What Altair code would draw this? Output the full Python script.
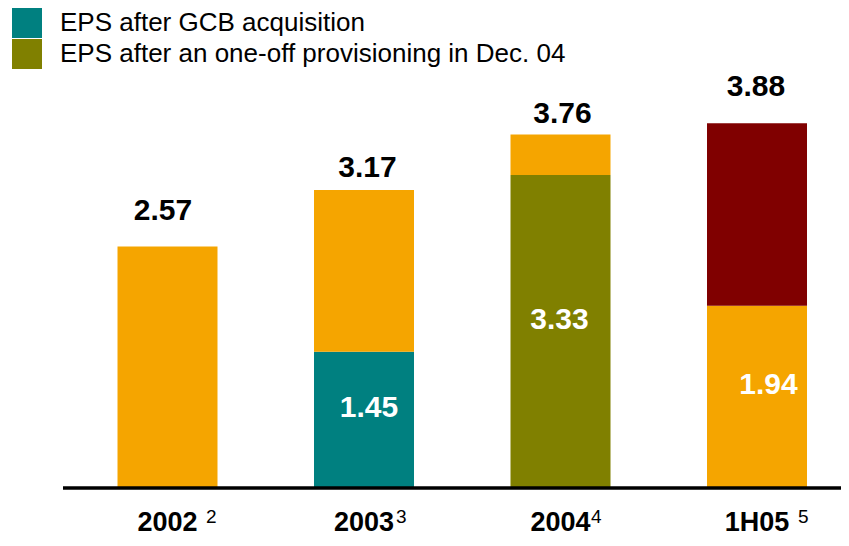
import altair as alt
import pandas as pd

# ---- data ----
categories = ["2002", "2003", "2004", "1H05"]
footnotes = ["2", "3", "4", "5"]
totals = [2.57, 3.17, 3.76, 3.88]
base_values = [2.57, 1.45, 3.33, 1.94]
base_series = ["EPS", "EPS after GCB acquisition",
               "EPS after an one-off provisioning in Dec. 04", "EPS"]
top_series = [None, "EPS", "EPS", "EPS 1H05"]
inner_shown = [False, True, True, True]

series_names = ["EPS after GCB acquisition",
                "EPS after an one-off provisioning in Dec. 04",
                "EPS", "EPS 1H05"]
series_colors = ["#008080", "#808000", "#F5A500", "#800000"]

# ---- tables built from the lists ----
bar_rows = []
for c, b, t, bs, ts in zip(categories, base_values, totals, base_series, top_series):
    bar_rows.append({"cat": c, "series": bs, "start": 0.0, "end": b})
    if ts is not None:
        bar_rows.append({"cat": c, "series": ts, "start": b, "end": t})
df_bars = pd.DataFrame(bar_rows)

df_lab = pd.DataFrame({
    "cat": categories,
    "total": totals,
    "total_text": [f"{v:.2f}" for v in totals],
    "base": base_values,
    "mid": [v / 2 for v in base_values],
    "base_text": [f"{v:.2f}" for v in base_values],
    "sup": footnotes,
})

# ---- styling ----
FONT = "Liberation Sans"
W, H = 776, 423
top_dx = [-4.5, 3.5, 2, -1]
top_dy = [-26, -13, -12, -27]
inner_dx = [0, 5, -1, 11.5]
sup_dx = [38.5, 32, 30.5, 41]

x_enc = alt.X("cat:N", sort=categories, axis=None,
              scale=alt.Scale(paddingInner=0.4911, paddingOuter=0.2201, align=0.607))
y_scale = alt.Scale(domain=[0, 4.5], nice=False, zero=True)


def y_enc(field):
    return alt.Y(field, scale=y_scale, axis=None)


bars = alt.Chart(df_bars).mark_bar().encode(
    x=x_enc,
    y=y_enc("start:Q"),
    y2="end:Q",
    color=alt.Color(
        "series:N",
        scale=alt.Scale(domain=series_names, range=series_colors),
        legend=alt.Legend(
            values=series_names[:2], title=None, orient="none",
            legendX=-53, legendY=-57, padding=0, offset=0,
            symbolType="square", symbolSize=900, symbolStrokeWidth=0,
            symbolOpacity=1, labelFontSize=26, labelFont=FONT,
            labelColor="black", labelOffset=18, rowPadding=1,
            labelLimit=700,
        ),
    ),
)

baseline = alt.Chart(pd.DataFrame({"v": [0]})).mark_rule(
    color="black", strokeWidth=3.5
).encode(y=y_enc("v:Q"), x=alt.value(-2), x2=alt.value(W))

layers = [bars, baseline]

for i, c in enumerate(categories):
    sub = alt.Chart(df_lab).transform_filter(alt.datum.cat == c)
    layers.append(sub.mark_text(
        font=FONT, fontSize=30, fontWeight="bold", color="black",
        align="center", baseline="alphabetic", dx=top_dx[i], dy=top_dy[i]
    ).encode(x=x_enc, y=y_enc("total:Q"), text="total_text:N"))
    if inner_shown[i]:
        layers.append(sub.mark_text(
            font=FONT, fontSize=30, fontWeight="bold", color="white",
            align="center", baseline="alphabetic", dx=inner_dx[i], dy=-2.5
        ).encode(x=x_enc, y=y_enc("mid:Q"), text="base_text:N"))
    layers.append(sub.mark_text(
        font=FONT, fontSize=27, fontWeight="bold", color="black",
        align="center", baseline="alphabetic"
    ).encode(x=x_enc, y=alt.value(466), text="cat:N"))
    layers.append(sub.mark_text(
        font=FONT, fontSize=19, color="black",
        align="left", baseline="alphabetic", dx=sup_dx[i]
    ).encode(x=x_enc, y=alt.value(458), text="sup:N"))

chart = alt.layer(*layers).properties(
    width=W, height=H,
    autosize=alt.AutoSizeParams(type="none"),
    padding={"left": 57, "top": 57, "right": 0, "bottom": 50},
    background="white",
).configure(font=FONT).configure_view(stroke=None, strokeWidth=0)

chart.save("out.html", embed_options={"renderer": "svg", "actions": False})
